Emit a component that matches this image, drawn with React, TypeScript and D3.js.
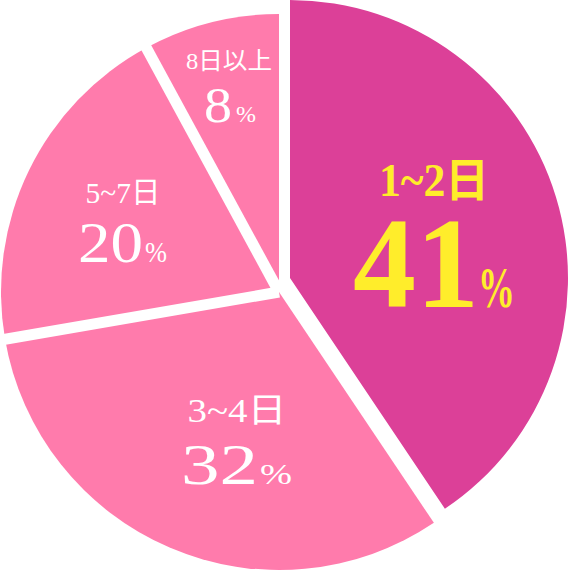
import React from "react";
import * as d3 from "d3";

// ---- data ----
const categories = ["1~2日", "3~4日", "5~7日", "8日以上"];
const shares = [41, 32, 20, 8];

// ---- styles / layout ----
const W = 570;
const H = 571;
const HIGHLIGHT = "#DC4098";
const BASE = "#FF7BAC";
const YELLOW = "#FFED2B";
const FONT = "'Liberation Serif', 'Noto Sans CJK JP', serif";

const lightCenter = { x: 279, y: 292 };
const darkCenter = { x: 290, y: 278 };
const R = 278;
const GAP = 11;

const labelLayout = [
  { cx: 434, titleY: 196, titleSize: 46, titleLen: 110, numY: 307, numSize: 130, numEnd: 479, numLen: 126, pctX: 478, pctSize: 58, pctLen: 37, bold: true, color: YELLOW },
  { cx: 237, titleY: 422, titleSize: 34, titleLen: 99, numY: 484, numSize: 58, numEnd: 258, numLen: 77, pctX: 260, pctSize: 29, pctLen: 32, bold: false, color: "#fff" },
  { cx: 123, titleY: 203, titleSize: 29, titleLen: 75, numY: 262, numSize: 58, numEnd: 143, numLen: 65, pctX: 145, pctSize: 29, pctLen: 22, bold: false, color: "#fff" },
  { cx: 229, titleY: 69, titleSize: 24, titleLen: 86, numY: 122, numSize: 50, numEnd: 232, numLen: 28, pctX: 236, pctSize: 24, pctLen: 20, bold: false, color: "#fff" },
];

export default function App() {
  const pie = d3.pie<number>().value((d) => d).sort(null);
  const arcs = pie(shares);
  const arcGen = d3.arc<d3.PieArcDatum<number>>().innerRadius(0).outerRadius(R);

  // separators between adjacent light slices
  const separators = arcs.slice(1, arcs.length - 1).map((a) => a.endAngle);

  return (
    <svg
      width={W}
      height={H}
      viewBox={`0 0 ${W} ${H}`}
      style={{ position: "absolute", left: 0, top: 0, background: "#fff" }}
    >
      <g transform={`translate(${lightCenter.x},${lightCenter.y})`}>
        {arcs.slice(1).map((a, i) => (
          <path key={i} d={arcGen(a) || ""} fill={BASE} />
        ))}
        {separators.map((ang, i) => (
          <line
            key={i}
            x1={0}
            y1={0}
            x2={Math.sin(ang) * (R + 20)}
            y2={-Math.cos(ang) * (R + 20)}
            stroke="#fff"
            strokeWidth={GAP}
          />
        ))}
      </g>
      <g transform={`translate(${darkCenter.x},${darkCenter.y})`}>
        <path d={arcGen(arcs[0]) || ""} fill={HIGHLIGHT} />
      </g>
      {arcs.map((a, i) => {
        const L = labelLayout[i];
        return (
          <g key={i} fill={L.color} fontFamily={FONT} fontWeight={L.bold ? "bold" : "normal"}>
            <text x={L.cx} y={L.titleY} fontSize={L.titleSize} textAnchor="middle" textLength={L.titleLen} lengthAdjust="spacingAndGlyphs">
              {categories[i]}
            </text>
            <text x={L.numEnd} y={L.numY} fontSize={L.numSize} textAnchor="end" textLength={L.numLen} lengthAdjust="spacingAndGlyphs">
              {shares[i]}
            </text>
            <text x={L.pctX} y={L.numY} fontSize={L.pctSize} textAnchor="start" textLength={L.pctLen} lengthAdjust="spacingAndGlyphs">
              %
            </text>
          </g>
        );
      })}
    </svg>
  );
}
